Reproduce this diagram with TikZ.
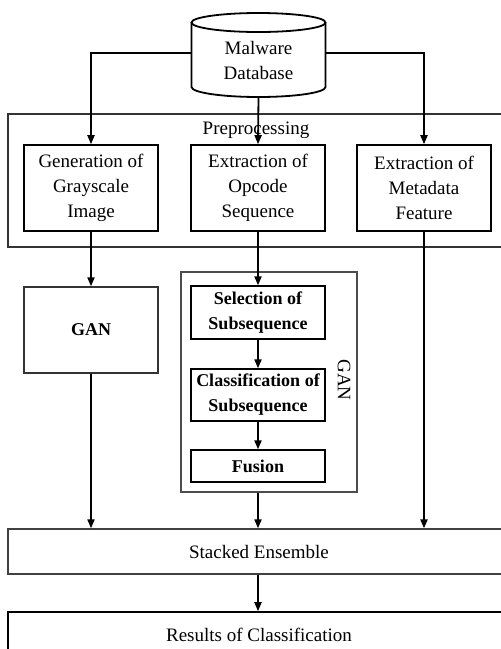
\documentclass[tikz,border=0pt]{standalone}
\usepackage{fontspec}
\setmainfont{Liberation Serif}
\usetikzlibrary{arrows.meta}
\begin{document}
\begin{tikzpicture}[x=1pt,y=1pt,
  every node/.style={font=\fontsize{19}{25}\selectfont, align=center, inner sep=0pt},
  box/.style={draw, line width=1.6pt, minimum width=134pt},
  widebox/.style={draw=black!75, line width=1.3pt, minimum width=502pt},
  grp/.style={draw=black!70, line width=1.2pt},
  arr/.style={line width=1.8pt, -{Triangle[length=9pt,width=7pt]}},
  bf/.style={font=\fontsize{18}{25}\selectfont\bfseries}
]
\clip (0,0) rectangle (501,-649);
\fill[white] (0,0) rectangle (501,-649);
% database cylinder
\draw[line width=1.8pt] (258.5,-22.5) ellipse [x radius=67pt, y radius=9.5pt];
\draw[line width=1.8pt] (191.5,-22.5) -- (191.5,-87) arc[start angle=180, end angle=360, x radius=67pt, y radius=10pt] -- (325.5,-22.5);
\node (db) [minimum width=134pt, minimum height=74pt] at (258.5,-60) {Malware\\Database};
% preprocessing group
\node (prep) [grp, line width=1.4pt, draw=black!80, minimum width=502pt, minimum height=133pt] at (259,-180.5) {};
\node (preplbl) at (256,-130) {Preprocessing};
\node (gen) [box, minimum height=86pt] at (91,-188) {Generation of\\Grayscale\\Image};
\node (opc) [box, minimum height=86pt] at (258,-188) {Extraction of\\Opcode\\Sequence};
\node (meta) [box, minimum height=86pt] at (424,-188) {Extraction of\\Metadata\\Feature};
% GAN left
\node (gan) [box, line width=1.3pt, draw=black!80, minimum height=86pt, bf] at (91,-330) {GAN};
% GAN group
\node (ganbox) [grp, minimum width=176pt, minimum height=220pt] at (269,-382) {};
\node (ganlbl) [rotate=-90] at (344,-380) {GAN};
\node (sel) [box, line width=1.3pt, minimum height=53pt, bf] at (258,-312.5) {Selection of\\Subsequence};
\node (cls) [box, line width=1.3pt, minimum height=52pt, bf] at (258,-395) {Classification of\\Subsequence};
\node (fus) [box, line width=1.3pt, minimum height=32pt, bf] at (258,-466) {Fusion};
% bottom
\node (stk) [widebox, minimum height=45pt] at (259,-551.5) {Stacked Ensemble};
\node (res) [draw, line width=1.6pt, minimum width=502pt, minimum height=46pt] at (259,-635) {Results of Classification};
% connectors
\draw[arr] ([yshift=7pt]db.west) -| (gen.north);
\draw[arr] ([yshift=7pt]db.east) -| (meta.north);
\draw[arr] (db.south) -- (opc.north);
\draw[arr] (gen.south) -- (gan.north);
\draw[arr] (opc.south) -- (sel.north);
\draw[arr] (sel.south) -- (cls.north);
\draw[arr] (cls.south) -- (fus.north);
\draw[arr] (gan.south) -- (gan.south |- stk.north);
\draw[arr] (ganbox.south -| fus.south) -- (fus.south |- stk.north);
\draw[arr, line width=2.2pt] (meta.south) -- (meta.south |- stk.north);
\draw[arr] (stk.south -| fus.south) -- (fus.south |- res.north);
\end{tikzpicture}
\end{document}
